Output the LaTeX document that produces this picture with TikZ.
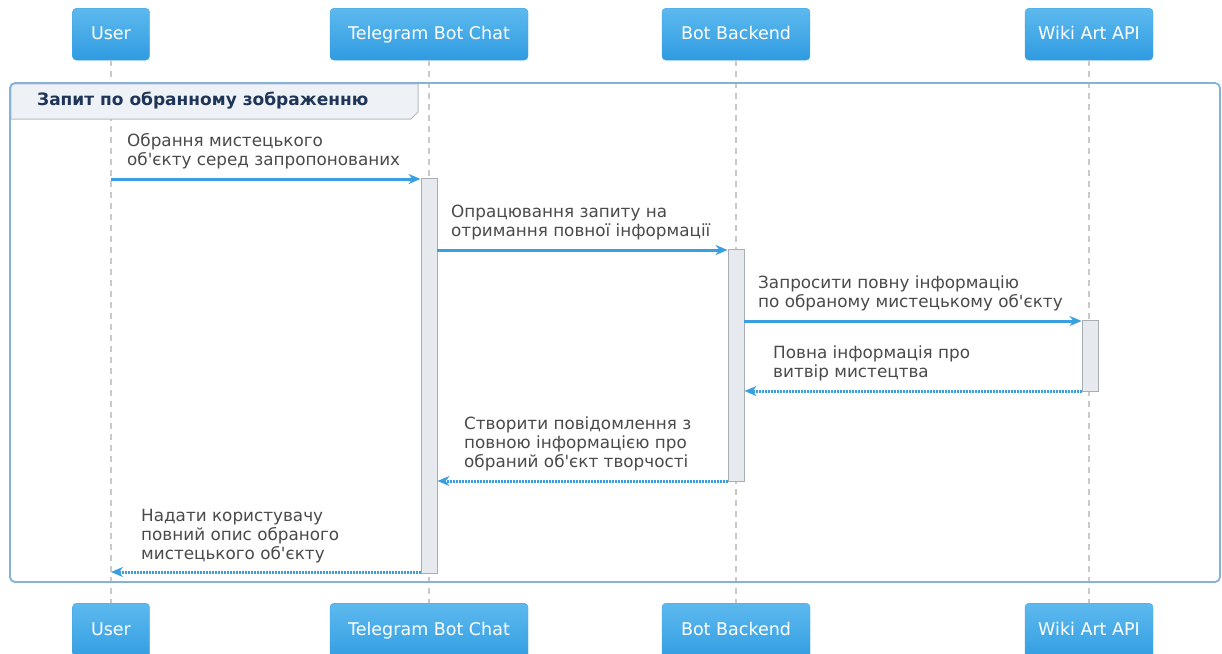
\documentclass[tikz,border=0pt]{standalone}
\usepackage{fontspec}
\setmainfont{DejaVu Sans}
\usetikzlibrary{arrows.meta}
\definecolor{boxtop}{HTML}{5DB9EF}
\definecolor{boxbot}{HTML}{2F9BE0}
\definecolor{boxline}{HTML}{45A6E4}
\definecolor{arr}{HTML}{3A9FE0}
\definecolor{life}{HTML}{C9C9C9}
\definecolor{frameblue}{HTML}{85B2DA}
\definecolor{tabfill}{HTML}{EEF1F5}
\definecolor{tabline}{HTML}{B5BCC5}
\definecolor{tabtext}{HTML}{1F3557}
\definecolor{msgtext}{HTML}{4A4A4A}
\definecolor{actfill}{HTML}{E6EAEF}
\definecolor{actline}{HTML}{A9AEB4}
\newcommand{\apos}{\textquotesingle}
\begin{document}
\begin{tikzpicture}[x=1pt,y=-1pt,
  participant/.style={rounded corners=4pt, draw=boxline, top color=boxtop, bottom color=boxbot,
    inner sep=0pt, anchor=north, minimum height=52pt},
  ptext/.style={text=white, font=\fontsize{17.5}{20}\selectfont, inner sep=0pt, anchor=base},
  lifeline/.style={draw=life, line width=1.8pt, dash pattern=on 6pt off 5pt},
  activation/.style={draw=actline, fill=actfill, line width=0.9pt, minimum width=16pt, inner sep=0pt, anchor=north},
  msg/.style={draw=arr, line width=3pt, -{Stealth[length=12pt,width=10pt]}},
  reply/.style={draw=arr, line width=3pt, dash pattern=on 1.6pt off 1.4pt, -{Stealth[length=12pt,width=10pt]}},
  msglabel/.style={text=msgtext, font=\fontsize{16.8}{19.3}\selectfont, align=left, anchor=south west, inner sep=0pt, text depth=0pt},
]
\useasboundingbox (0,0) rectangle (1222,653);
\clip (0,0) rectangle (1222,653);
\fill[white] (0,0) rectangle (1222,653);
% participants
\node[participant, minimum width=77pt] (ut) at (111,8) {};
\node[participant, minimum width=198pt] (tt) at (429,8) {};
\node[participant, minimum width=148pt] (bt) at (736,8) {};
\node[participant, minimum width=128pt] (wt) at (1089,8) {};
\node[ptext] (utl) at (111,39.5) {User};
\node[ptext] (ttl) at (429,39.5) {Telegram Bot Chat};
\node[ptext] (btl) at (736,39.5) {Bot Backend};
\node[ptext] (wtl) at (1089,39.5) {Wiki Art API};
\node[participant, minimum width=77pt, minimum height=60pt] (ub) at (111,603) {};
\node[participant, minimum width=198pt, minimum height=60pt] (tb) at (429,603) {};
\node[participant, minimum width=148pt, minimum height=60pt] (bb) at (736,603) {};
\node[participant, minimum width=128pt, minimum height=60pt] (wb) at (1089,603) {};
\node[ptext] (ubl) at (111,635.5) {User};
\node[ptext] (tbl) at (429,635.5) {Telegram Bot Chat};
\node[ptext] (bbl) at (736,635.5) {Bot Backend};
\node[ptext] (wbl) at (1089,635.5) {Wiki Art API};
% lifelines
\draw[lifeline] (ut.south) -- (ub.north);
\draw[lifeline] (tt.south) -- (tb.north);
\draw[lifeline] (bt.south) -- (bb.north);
\draw[lifeline] (wt.south) -- (wb.north);
% group frame
\path[fill=tabfill, draw=tabline, line width=1pt] (10.75,112) [rounded corners=4pt] -- (10.75,83.75) [sharp corners] -- (418,83.75) -- (418,112) -- (411,119) -- (10.75,119) -- cycle;
\draw[frameblue, line width=1.8pt, rounded corners=5pt] (10,83) rectangle (1220,582);
\node[text=tabtext, font=\bfseries\fontsize{17}{20}\selectfont, anchor=west, inner sep=0pt] (grp) at (37,101) {Запит по обранному зображенню};
% activations
\node[activation, minimum height=395pt] (ta) at (429,178) {};
\node[activation, minimum height=232pt] (ba) at (736,249) {};
\node[activation, minimum height=71pt] (wa) at (1090,320) {};
% messages
\coordinate (u1) at (111,179);
\draw[msg] (u1) -- (ta.west |- u1);
\coordinate (t2) at (437,250);
\draw[msg] (ta.east |- t2) -- (ba.west |- t2);
\coordinate (b3) at (744,321);
\draw[msg] (ba.east |- b3) -- (wa.west |- b3);
\coordinate (w4) at (1082,391);
\draw[reply] (wa.west |- w4) -- (ba.east |- w4);
\coordinate (b5) at (729,481);
\draw[reply] (ba.west |- b5) -- (ta.east |- b5);
\coordinate (t6) at (421,572);
\draw[reply] (ta.west |- t6) -- (ut.south |- t6);
% labels
\node[msglabel] (l1) at (127,166) {Обрання мистецького\\об\apos єкту серед запропонованих};
\node[msglabel] (l2) at (451,237) {Опрацювання запиту на\\отримання повної інформації};
\node[msglabel] (l3) at (758,308) {Запросити повну інформацію\\по обраному мистецькому об\apos єкту};
\node[msglabel] (l4) at (773,378) {Повна інформація про\\витвір мистецтва};
\node[msglabel] (l5) at (464,468) {Створити повідомлення з\\повною інформацією про\\обраний об\apos єкт творчості};
\node[msglabel] (l6) at (141,560) {Надати користувачу\\повний опис обраного\\мистецького об\apos єкту};
\end{tikzpicture}
\end{document}
